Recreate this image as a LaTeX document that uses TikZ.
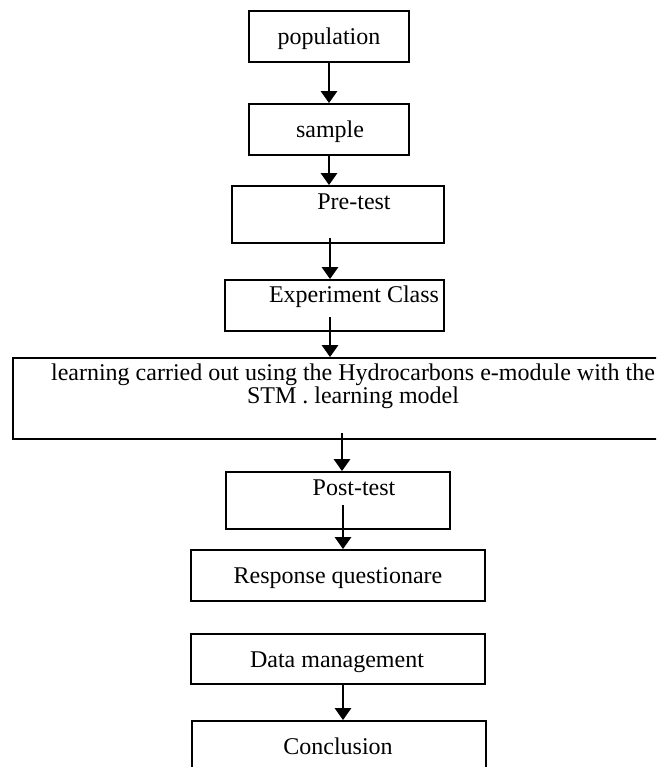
\documentclass[tikz,border=0pt]{standalone}
\usepackage{fontspec}
\setmainfont{Liberation Serif}
\usetikzlibrary{arrows.meta}
\begin{document}
\begin{tikzpicture}[x=1pt,y=-1pt,
  box/.style={draw, line width=1.8pt, inner sep=0pt},
  lbl/.style={anchor=base, inner sep=0pt, font=\fontsize{24}{21}\selectfont},
  arr/.style={line width=2.8pt, -{Triangle[width=16pt,length=12pt]}}]
\useasboundingbox (0,0) rectangle (656,767);
\clip (0,0) rectangle (656,767);
% boxes
\node[box, minimum width=160pt, minimum height=51pt] (pop) at (329,36.5) {};
\node[box, minimum width=160pt, minimum height=51pt] (sample) at (329,129.5) {};
\node[box, minimum width=212pt, minimum height=57pt] (pre) at (338,214.5) {};
\node[box, minimum width=219pt, minimum height=51pt] (exp) at (334.5,305.5) {};
\node[box, minimum width=667pt, minimum height=81pt] (learn) at (346.5,398.5) {};
\node[box, minimum width=224pt, minimum height=57pt] (post) at (338,500.5) {};
\node[box, minimum width=294pt, minimum height=51pt] (resp) at (338,575.5) {};
\node[box, minimum width=294pt, minimum height=50pt] (data) at (338,659) {};
\node[box, minimum width=294pt, minimum height=59pt] (concl) at (339,750.5) {};
% texts
\node[lbl] (tpop) at (329,45) {population};
\node[lbl] (tsample) at (330,138) {sample};
\node[lbl] (tpre) at (354,209) {Pre-test};
\node[lbl] (texp) at (354,302) {Experiment Class};
\node[lbl] (tlearn1) at (353,380) {learning carried out using the Hydrocarbons e-module with the};
\node[lbl] (tlearn2) at (353,403) {STM . learning model};
\node[lbl] (tpost) at (354,495) {Post-test};
\node[lbl] (tresp) at (338,583) {Response questionare};
\node[lbl] (tdata) at (337,667) {Data management};
\node[lbl] (tconcl) at (338,754) {Conclusion};
% connector start points
\coordinate (c3) at (330,238);
\coordinate (c4) at (330,317);
\coordinate (c5) at (342,433);
\coordinate (c6) at (343,505);
\coordinate (c7) at (343,684);
% connectors
\draw[arr] (pop) -- (sample);
\draw[arr] (sample.south) -- (sample.south |- pre.north);
\draw[arr] (c3) -- (c3 |- exp.north);
\draw[arr] (c4) -- (c4 |- learn.north);
\draw[arr] (c5) -- (c5 |- post.north);
\draw[arr] (c6) -- (c6 |- resp.north);
\draw[arr] (c7) -- (c7 |- concl.north);
\end{tikzpicture}
\end{document}
